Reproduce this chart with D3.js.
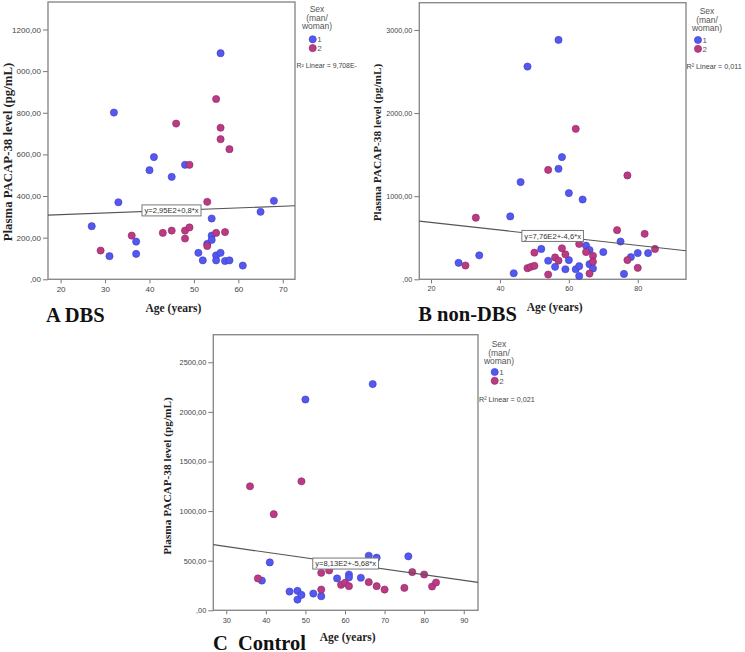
<!DOCTYPE html>
<html><head><meta charset="utf-8">
<script src="https://cdn.jsdelivr.net/npm/d3@7"></script>
<style>
body{margin:0;background:#fff}
svg{display:block}
.sans{font-family:"Liberation Sans",Arial,sans-serif}
.serif{font-family:"Liberation Serif","Times New Roman",serif;font-weight:bold}
</style>
</head><body>
<svg id="c" width="745" height="652"></svg>
<script>
// ---------- DATA ----------
const sexCodes = ["1", "2"];            // 1 = man, 2 = woman
const legendTitle = ["Sex", "(man/", "woman)"];
const yTitle = "Plasma PACAP-38 level (pg/mL)";
const xTitle = "Age (years)";

// Panel A: DBS  [age, level]
const dbsMen = [[27,255],[31,111],[32,801],[33,370],[37,181],[37,122],[40,524],[41,587],[45,492],[48,550],
  [51,127],[52,91],[53,170],[54,292],[54,210],[54,189],[55,115],[55,91],[56,127],[56,1086],[57,88],[58,91],
  [61,66],[65,324],[68,377]];
const dbsWomen = [[29,138],[36,210],[43,223],[45,234],[46,748],[48,234],[48,196],[49,249],[49,550],[53,372],
  [53,160],[55,866],[55,223],[56,728],[56,673],[57,227],[58,625]];
const dbsFit = [295, 0.8];
const dbsFitLabel = "y=2,95E2+0,8*x";
const dbsR2 = "R² Linear = 9,708E-";
const dbsXTicks = [20,30,40,50,60,70];
const dbsYTicks = [0,200,400,600,800,1000,1200];
const dbsYTickLabels = [",00","200,00","400,00","600,00","800,00","000,00","1200,00"];
const dbsCaption = "A DBS";

// Panel B: non-DBS
const nonDbsMen = [[28,198],[34,288],[43,757],[44,73],[46,1170],[48,2560],[52,365],[54,223],[56,150],[57,2880],
  [57,1330],[58,1470],[59,121],[60,1037],[60,231],[62,121],[63,158],[63,40],[64,960],[65,405],[66,352],[66,182],
  [67,130],[70,328],[75,454],[76,65],[78,267],[80,316],[83,316]];
const nonDbsWomen = [[30,166],[33,741],[48,134],[49,150],[50,162],[50,320],[54,1316],[54,57],[56,263],[57,225],
  [58,373],[59,300],[62,1810],[63,425],[65,328],[66,69],[67,283],[67,211],[74,591],[77,1250],[77,231],[80,138],
  [82,547],[85,365]];
const nonDbsFit = [776, -4.6];
const nonDbsFitLabel = "y=7,76E2+-4,6*x";
const nonDbsR2 = "R² Linear = 0,011";
const nonDbsXTicks = [20,40,60,80];
const nonDbsYTicks = [0,1000,2000,3000];
const nonDbsYTickLabels = [",00","1000,00","2000,00","3000,00"];
const nonDbsCaption = "B non-DBS";

// Panel C: Control
const controlMen = [[39,300],[41,483],[46,189],[48,196],[48,108],[49,155],[50,2125],[52,169],[54,142],[58,321],
  [61,361],[61,331],[64,328],[66,550],[67,2280],[68,530],[76,544]];
const controlWomen = [[36,1250],[38,321],[42,969],[49,1300],[54,378],[54,209],[56,402],[59,257],[60,277],[61,243],
  [66,284],[68,243],[70,209],[75,226],[77,385],[80,361],[82,240],[83,280]];
const controlFit = [813, -5.68];
const controlFitLabel = "y=8,13E2+-5,68*x";
const controlR2 = "R² Linear = 0,021";
const controlXTicks = [30,40,50,60,70,80,90];
const controlYTicks = [0,500,1000,1500,2000,2500];
const controlYTickLabels = [",00","500,00","1000,00","1500,00","2000,00","2500,00"];
const controlCaption = "C  Control";

// ---------- DRAW ----------
const svg = d3.select("#c");
svg.append("rect").attr("width",745).attr("height",652).attr("fill","#fff");

const colors = {"1": {fill:"#5558ef", stroke:"#3a3dc4"}, "2": {fill:"#bb3a84", stroke:"#8e2663"}};

function panel(p) {
  const g = svg.append("g");
  const x = d3.scaleLinear().domain(p.xDomain).range([p.left, p.right]);
  const y = d3.scaleLinear().domain(p.yDomain).range([p.bottom, p.top]);

  const xa = g.append("g").attr("transform", `translate(0,${p.bottom})`)
    .call(d3.axisBottom(x).tickValues(p.xTicks).tickFormat(d3.format("d")).tickSize(4).tickPadding(3));
  const ya = g.append("g").attr("transform", `translate(${p.left},0)`)
    .call(d3.axisLeft(y).tickValues(p.yTicks).tickFormat((d,i) => p.yTickLabels[i]).tickSize(5).tickPadding(2));
  [xa, ya].forEach(a => {
    a.select(".domain").remove();
    a.selectAll("line").attr("stroke", "#777");
    a.selectAll("text").attr("class","sans").attr("fill","#444").style("font-size", p.tickFont + "px");
  });

  g.append("rect").attr("x", p.left).attr("y", p.top)
    .attr("width", p.right - p.left).attr("height", p.bottom - p.top)
    .attr("fill", "none").attr("stroke", "#8a8a8a").attr("stroke-width", 1.4);

  const pts = [].concat(p.men.map(d => ({age:d[0], v:d[1], s:"1"})), p.women.map(d => ({age:d[0], v:d[1], s:"2"})));
  g.append("g").selectAll("circle").data(pts).join("circle")
    .attr("cx", d => x(d.age)).attr("cy", d => y(d.v)).attr("r", 3.6)
    .attr("fill", d => colors[d.s].fill).attr("stroke", d => colors[d.s].stroke).attr("stroke-width", 0.6);

  const fx = p.xDomain;
  const line = d3.line().x(d => x(d)).y(d => y(p.fit[0] + p.fit[1]*d));
  g.append("path").attr("d", line(fx)).attr("fill","none").attr("stroke","#555").attr("stroke-width",1.2);

  const mid = (fx[0] + fx[1]) / 2;
  const cx = x(mid), cy = y(p.fit[0] + p.fit[1]*mid);
  const lg = g.append("g");
  const rect = lg.append("rect");
  const t = lg.append("text").attr("class","sans").attr("x", cx).attr("y", cy)
    .attr("text-anchor","middle").attr("dy","0.35em").style("font-size","7.6px").attr("fill","#333").text(p.fitLabel);
  const w = t.node().getComputedTextLength() + 5;
  rect.attr("x", cx - w/2).attr("y", cy - 5.5).attr("width", w).attr("height", 11)
    .attr("fill","#fff").attr("stroke","#777").attr("stroke-width",1);

  // legend
  const lt = g.append("text").attr("class","sans").attr("text-anchor","middle").attr("fill","#555")
    .style("font-size","8.5px");
  legendTitle.forEach((s,i) => lt.append("tspan").attr("x", p.legX).attr("y", p.legY + i*8.6).text(s));
  sexCodes.forEach((s,i) => {
    g.append("circle").attr("cx", p.dotX).attr("cy", p.dotY + i*8.8).attr("r", 3.6)
      .attr("fill", colors[s].fill).attr("stroke", colors[s].stroke).attr("stroke-width",0.6);
    g.append("text").attr("class","sans").attr("x", p.dotX + 4.5).attr("y", p.dotY + i*8.8).attr("dy","0.35em")
      .attr("fill","#555").style("font-size","8px").text(s);
  });
  g.append("text").attr("class","sans").attr("x", p.r2X).attr("y", p.r2Y).attr("dy","0.35em")
    .attr("fill","#444").style("font-size", p.r2Font + "px").text(p.r2);

  // titles
  g.append("text").attr("class","serif").attr("transform", `translate(${p.yTitleX},${p.yTitleY}) rotate(-90)`)
    .attr("text-anchor","middle").attr("dy","0.35em").style("font-size", p.yTitleFont + "px").attr("fill","#222").text(yTitle);
  g.append("text").attr("class","serif").attr("x", (p.left + p.right)/2 + 2).attr("y", p.xTitleY)
    .attr("text-anchor","middle").style("font-size","11.5px").attr("fill","#222").text(xTitle);
  g.append("text").attr("class","serif").attr("x", p.capX).attr("y", p.capY)
    .style("font-size","20.5px").style("white-space","pre").attr("fill","#111").text(p.caption);
}

panel({left:48, right:295, top:2, bottom:279.3, xDomain:[17.16,72.75], yDomain:[0,1332],
  xTicks:dbsXTicks, yTicks:dbsYTicks, yTickLabels:dbsYTickLabels, tickFont:8,
  men:dbsMen, women:dbsWomen, fit:dbsFit, fitLabel:dbsFitLabel, r2:dbsR2, r2Font:6.9,
  legX:317, legY:12, dotX:312.7, dotY:39.3, r2X:296.5, r2Y:66,
  yTitleX:7.6, yTitleY:152, yTitleFont:12.8, xTitleY:311.7, capX:46, capY:321.7, caption:dbsCaption});

panel({left:419.3, right:686, top:2.7, bottom:279.3, xDomain:[16.6,94.0], yDomain:[0,3328],
  xTicks:nonDbsXTicks, yTicks:nonDbsYTicks, yTickLabels:nonDbsYTickLabels, tickFont:7.2,
  men:nonDbsMen, women:nonDbsWomen, fit:nonDbsFit, fitLabel:nonDbsFitLabel, r2:nonDbsR2, r2Font:7.2,
  legX:707, legY:14, dotX:698, dotY:40, r2X:686.5, r2Y:66.7,
  yTitleX:377, yTitleY:142.5, yTitleFont:11.3, xTitleY:311, capX:418.3, capY:321, caption:nonDbsCaption});

panel({left:213.3, right:478, top:334.7, bottom:610.3, xDomain:[26.73,93.6], yDomain:[0,2778],
  xTicks:controlXTicks, yTicks:controlYTicks, yTickLabels:controlYTickLabels, tickFont:7.4,
  men:controlMen, women:controlWomen, fit:controlFit, fitLabel:controlFitLabel, r2:controlR2, r2Font:7.2,
  legX:499, legY:347, dotX:494.7, dotY:372, r2X:479, r2Y:399,
  yTitleX:167.5, yTitleY:476, yTitleFont:11.3, xTitleY:641, capX:213, capY:649.5, caption:controlCaption});
</script>
</body></html>
